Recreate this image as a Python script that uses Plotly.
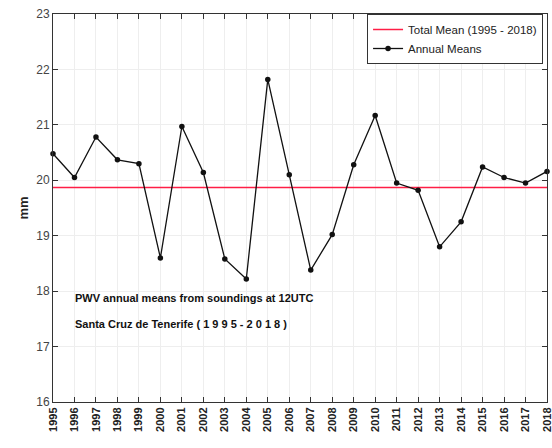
import plotly.graph_objects as go

years = list(range(1995, 2019))
pwv_means = [20.48, 20.05, 20.78, 20.37, 20.30, 18.60, 20.97, 20.14, 18.58, 18.22,
             21.82, 20.10, 18.38, 19.02, 20.28, 21.17, 19.95, 19.82, 18.80, 19.25,
             20.24, 20.05, 19.95, 20.16]
total_mean = 19.87
y_ticks = [16, 17, 18, 19, 20, 21, 22, 23]

fig = go.Figure()
fig.add_trace(go.Scatter(
    x=[years[0], years[-1]], y=[total_mean, total_mean], mode="lines",
    line=dict(color="#ff1e46", width=1.5), name="Total Mean (1995 - 2018)",
    cliponaxis=False))
fig.add_trace(go.Scatter(
    x=years, y=pwv_means, mode="lines+markers",
    line=dict(color="#111111", width=1.3),
    marker=dict(color="#111111", size=5.5, symbol="circle"),
    name="Annual Means", cliponaxis=False))

fig.add_annotation(x=0.041, y=0.268, xref="paper", yref="paper", xanchor="left", yanchor="middle",
                   text="<b>PWV annual means from soundings at 12UTC</b>",
                   showarrow=False, font=dict(size=11, color="#111111", family="Liberation Sans, Arial"))
fig.add_annotation(x=0.041, y=0.201, xref="paper", yref="paper", xanchor="left", yanchor="middle",
                   text="<b>Santa Cruz de Tenerife ( 1 9 9 5 - 2 0 1 8 )</b>",
                   showarrow=False, font=dict(size=11, color="#111111", family="Liberation Sans, Arial"))

fig.update_layout(
    width=552, height=448,
    margin=dict(l=53, r=5, t=14, b=46),
    paper_bgcolor="white", plot_bgcolor="white",
    font=dict(family="Liberation Sans, Arial", color="#222222", size=12),
    showlegend=True,
    legend=dict(x=0.992, y=1.0, xanchor="right", yanchor="top",
                bgcolor="white", bordercolor="#333333", borderwidth=1,
                font=dict(size=11.5, color="#222222"), itemwidth=30,
                tracegroupgap=0),
    xaxis=dict(range=[1995, 2018], tickmode="array", tickvals=years,
               ticktext=[f"<b>{y}</b>" for y in years], tickangle=-90,
               ticks="inside", ticklen=5, tickcolor="#333333",
               showline=True, linecolor="#333333", linewidth=1, mirror="ticks",
               showgrid=True, gridcolor="#eeeeee", gridwidth=1, zeroline=False,
               automargin=False, ticklabeloverflow="allow",
               tickfont=dict(size=11, color="#222222")),
    yaxis=dict(range=[16, 23], tickmode="array", tickvals=y_ticks,
               ticks="inside", ticklen=5, tickcolor="#333333",
               showline=True, linecolor="#333333", linewidth=1, mirror="ticks",
               showgrid=True, gridcolor="#eeeeee", gridwidth=1, zeroline=False,
               automargin=False, ticklabeloverflow="allow",
               tickfont=dict(size=12, color="#444444"),
               title=dict(text="<b>mm</b>", font=dict(size=13, color="#222222"), standoff=4)),
)

fig.write_html("out.html", config={"displayModeBar": False},
               post_script="document.body.style.margin='0';document.body.style.overflow='hidden';")
